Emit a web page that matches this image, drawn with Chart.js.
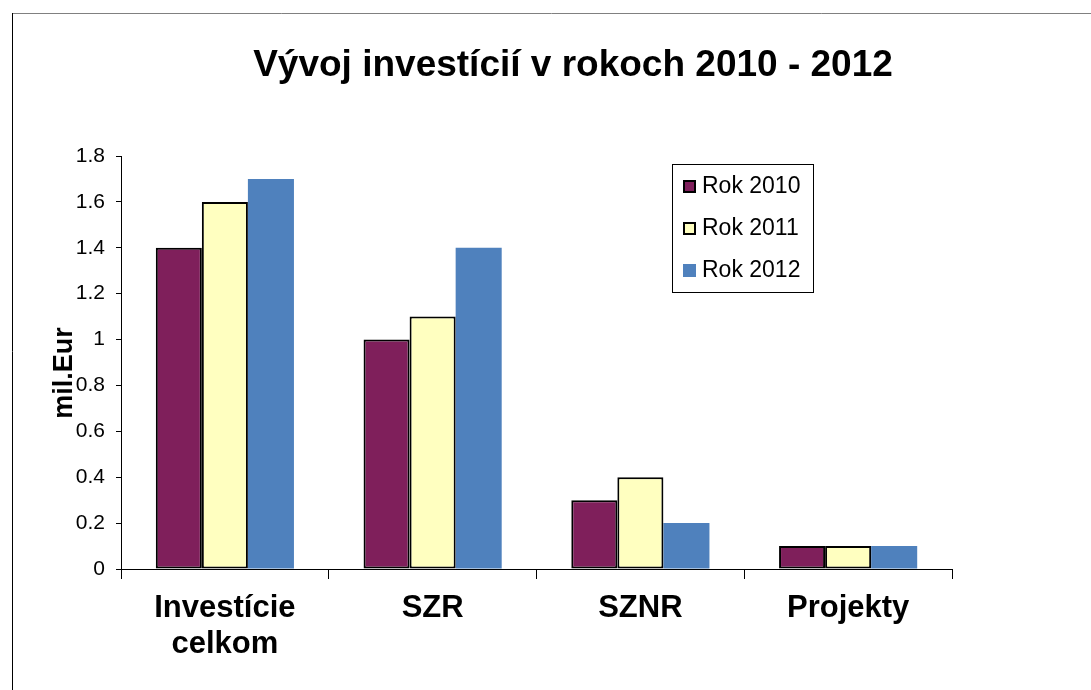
<!DOCTYPE html>
<html>
<head>
<meta charset="utf-8">
<script src="https://cdn.jsdelivr.net/npm/chart.js@4"></script>
<style>
html, body { margin: 0; padding: 0; background: #fff; }
</style>
</head>
<body>
<canvas id="myChart" width="1091" height="690"></canvas>
<script>
const categories = [['Investície', 'celkom'], 'SZR', 'SZNR', 'Projekty'];
const seriesNames = ['Rok 2010', 'Rok 2011', 'Rok 2012'];
const rok2010 = [1.4, 1.0, 0.3, 0.1];
const rok2011 = [1.6, 1.1, 0.4, 0.1];
const rok2012 = [1.7, 1.4, 0.2, 0.1];
const chartTitle = 'Vývoj investícií v rokoch 2010 - 2012';
const yTitle = 'mil.Eur';

const FONT = '"Liberation Sans", Arial, sans-serif';

// frame, title, axis title and the boxed legend
const decor = {
    id: 'decor',
    beforeDraw(chart) {
        const c = chart.ctx;
        c.save();
        c.fillStyle = '#fff';
        c.fillRect(0, 0, chart.width, chart.height);
        c.lineWidth = 1;
        c.strokeStyle = '#808080';
        c.beginPath();
        c.moveTo(12, 13.5);
        c.lineTo(chart.width, 13.5);
        c.stroke();
        c.strokeStyle = '#000';
        c.beginPath();
        c.moveTo(12.5, 13);
        c.lineTo(12.5, chart.height);
        c.stroke();
        c.restore();
    },
    afterDraw(chart) {
        const c = chart.ctx;
        c.save();
        c.fillStyle = '#000';
        c.textAlign = 'center';
        c.textBaseline = 'alphabetic';
        c.font = 'bold 37px ' + FONT;
        c.fillText(chartTitle, 573, 76);

        c.save();
        c.translate(72, 373);
        c.rotate(-Math.PI / 2);
        c.font = 'bold 27px ' + FONT;
        c.fillText(yTitle, 0, 0);
        c.restore();

        // legend
        c.lineWidth = 1;
        c.strokeStyle = '#000';
        c.strokeRect(672.5, 164.5, 141, 128);
        c.font = '23px ' + FONT;
        c.textAlign = 'left';
        c.textBaseline = 'middle';
        chart.data.datasets.forEach((ds, i) => {
            const cy = 186 + i * 42;
            c.fillStyle = ds.backgroundColor;
            c.fillRect(683, cy - 6, 13, 13);
            if (ds.borderWidth) {
                c.lineWidth = 2;
                c.strokeRect(684, cy - 5, 11, 11);
            }
            c.fillStyle = '#000';
            c.fillText(ds.label, 702, cy + 1);
        });
        c.restore();
    }
};

const ctx = document.getElementById('myChart').getContext('2d');
const myChart = new Chart(ctx, {
    type: 'bar',
    data: {
        labels: categories,
        datasets: [{
            label: seriesNames[0],
            data: rok2010,
            backgroundColor: '#7f1f5b',
            borderColor: '#000',
            borderWidth: 2,
            borderSkipped: false
        }, {
            label: seriesNames[1],
            data: rok2011,
            backgroundColor: '#ffffc0',
            borderColor: '#000',
            borderWidth: 2,
            borderSkipped: false
        }, {
            label: seriesNames[2],
            data: rok2012,
            backgroundColor: '#4f81bd',
            borderWidth: 0
        }]
    },
    options: {
        responsive: false,
        animation: false,
        devicePixelRatio: 1,
        categoryPercentage: 0.665,
        barPercentage: 1.0,
        layout: {
            padding: { left: 0, top: 156, right: 139, bottom: 0 }
        },
        plugins: {
            legend: { display: false },
            title: { display: false },
            tooltip: { enabled: false }
        },
        scales: {
            x: {
                afterFit(scale) { scale.height = 121; },
                grid: {
                    offset: true,
                    drawOnChartArea: false,
                    color: '#000',
                    tickLength: 10
                },
                border: { color: '#000', width: 1 },
                ticks: {
                    color: '#000',
                    padding: 12,
                    maxRotation: 0,
                    font: { family: FONT, size: 31, weight: 'bold', lineHeight: 1.15 }
                }
            },
            y: {
                min: 0,
                max: 1.8,
                afterFit(scale) { scale.width = 121; },
                grid: {
                    drawOnChartArea: false,
                    color: '#000',
                    tickLength: 5
                },
                border: { color: '#000', width: 1 },
                ticks: {
                    stepSize: 0.2,
                    color: '#000',
                    padding: 11,
                    font: { family: FONT, size: 21 },
                    callback: v => String(+v.toFixed(1))
                }
            }
        }
    },
    plugins: [decor]
});
</script>
</body>
</html>
